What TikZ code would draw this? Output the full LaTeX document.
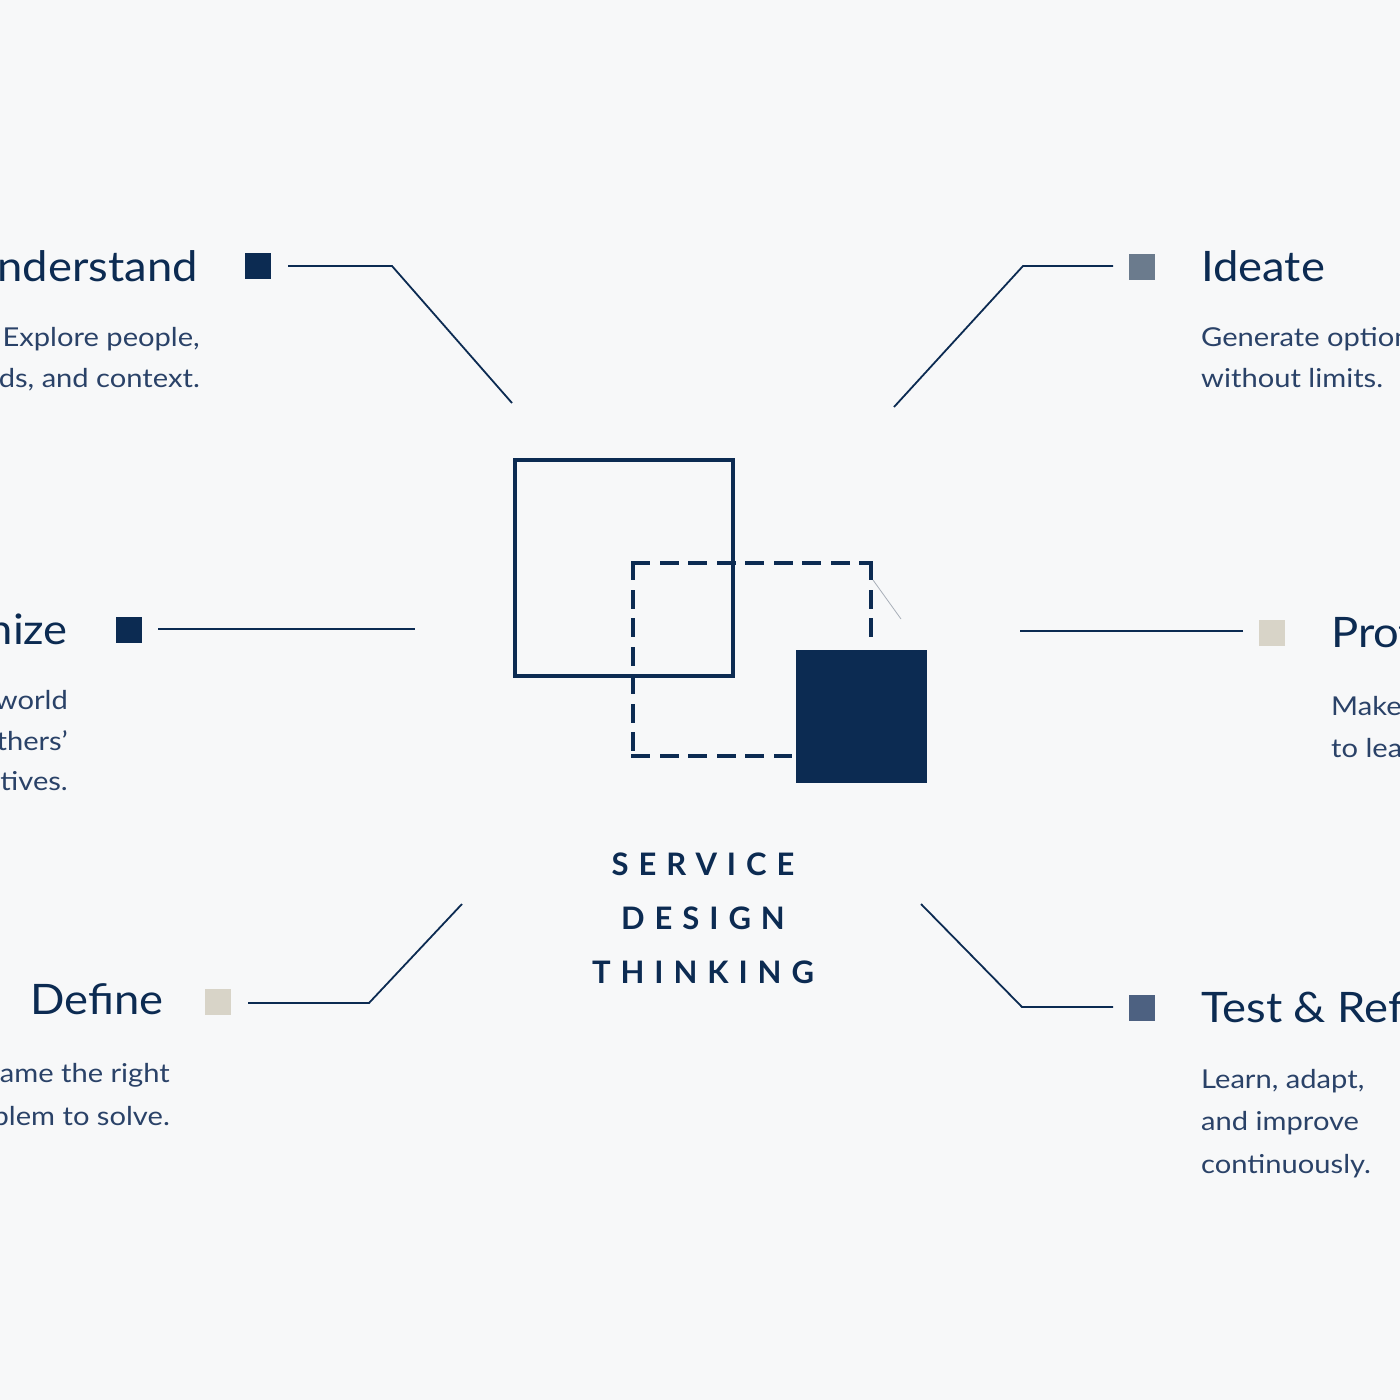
\documentclass[tikz,border=0pt]{standalone}
\usepackage{fontspec}
\setmainfont{Lato}
\newfontfamily\titlefont[FakeStretch=1.08]{Lato}
\newfontfamily\descfont[FakeStretch=1.12]{Lato}
\definecolor{bg}{HTML}{F7F8F9}
\definecolor{navy}{HTML}{0C2B52}
\definecolor{descc}{HTML}{2A4268}
\definecolor{slate}{HTML}{6B7B8D}
\definecolor{slated}{HTML}{4D6181}
\definecolor{beige}{HTML}{D8D4C8}
\definecolor{faint}{HTML}{A8AFB8}
\tikzset{
  title/.style={font=\titlefont\fontsize{42}{48}\selectfont, text=navy, inner sep=0pt},
  desc/.style={font=\descfont\fontsize{26}{32}\selectfont, text=descc, inner sep=0pt},
  marker/.style={minimum size=26pt, inner sep=0pt, draw=none},
  conn/.style={draw=navy, line width=1.8pt},
  center/.style={font=\fontsize{31}{36}\selectfont\bfseries\addfontfeature{LetterSpace=32}, text=navy, inner sep=0pt},
  solidsq/.style={draw=navy, line width=4.8pt},
  dashsq/.style={draw=navy, line width=4pt, dash pattern=on 15pt off 13.5pt, line cap=rect}
}
\begin{document}
\begin{tikzpicture}[x=1pt,y=-1pt]
\useasboundingbox (0,0) rectangle (1400,1400);
\clip (0,0) rectangle (1400,1400);
\fill[bg] (0,0) rectangle (1400,1400);

% central graphic
\draw[solidsq] (515,460) rectangle (733,676);
\draw[dashsq] (633,563) -- (871,563);
\draw[dashsq] (871,563) -- (871,638);
\draw[dashsq] (633,563) -- (633,756);
\draw[dashsq] (633,756) -- (790,756);
\node[fill=navy, draw=none, inner sep=0pt, minimum width=131pt, minimum height=133pt, anchor=north west] (fsq) at (796,650) {};
\draw[faint, line width=0.8pt] (873,580) -- (901,619);

\node[center, anchor=base] (c1) at (703,875) {SERVICE};
\node[center, anchor=base] (c2) at (703,929) {DESIGN};
\node[center, anchor=base] (c3) at (703,983) {THINKING};

% Understand
\node[title, anchor=base east] (ut) at (198,281) {Understand};
\node[desc, anchor=base east] (ud1) at (200,346) {Explore people,};
\node[desc, anchor=base east] (ud2) at (200,387) {needs, and context.};
\node[marker, fill=navy] (us) at (257.5,266) {};
\coordinate (ua) at (288,266);
\coordinate (ub) at (392,266);
\coordinate (uc) at (512,403);
\draw[conn] (ua) -- (ub) -- (uc);

% Ideate
\node[title, anchor=base west] (it) at (1201,281) {Ideate};
\node[desc, anchor=base west] (id1) at (1201,346) {Generate options};
\node[desc, anchor=base west] (id2) at (1201,387) {without limits.};
\node[marker, fill=slate] (is) at (1142,266.5) {};
\coordinate (ia) at (1113,266);
\coordinate (ib) at (1023,266);
\coordinate (ic) at (894,407);
\draw[conn] (ia) -- (ib) -- (ic);

% Empathize
\node[title, anchor=base east] (et) at (68,644) {Empathize};
\node[desc, anchor=base east] (ed1) at (68,709) {See the world};
\node[desc, anchor=base east] (ed2) at (68,750) {through others’};
\node[desc, anchor=base east] (ed3) at (68,790) {perspectives.};
\node[marker, fill=navy] (es) at (128.5,630) {};
\coordinate (ea) at (158,629);
\coordinate (eb) at (415,629);
\draw[conn] (ea) -- (eb);

% Prototype
\node[title, anchor=base west] (pt) at (1331,647) {Prototype};
\node[desc, anchor=base west] (pd1) at (1331,715) {Make it real};
\node[desc, anchor=base west] (pd2) at (1331,757) {to learn fast.};
\node[marker, fill=beige] (ps) at (1272,632.5) {};
\coordinate (pa) at (1243,631);
\coordinate (pb) at (1020,631);
\draw[conn] (pa) -- (pb);

% Define
\node[title, anchor=base east] (dt) at (164,1014) {Define};
\node[desc, anchor=base east] (dd1) at (170,1082) {Frame the right};
\node[desc, anchor=base east] (dd2) at (170,1125) {problem to solve.};
\node[marker, fill=beige] (ds) at (218,1002) {};
\coordinate (da) at (248,1003);
\coordinate (db) at (369,1003);
\coordinate (dc) at (462,904);
\draw[conn] (da) -- (db) -- (dc);

% Test & Refine
\node[title, anchor=base west] (tt) at (1201,1022) {Test \& Refine};
\node[desc, anchor=base west] (td1) at (1201,1088) {Learn, adapt,};
\node[desc, anchor=base west] (td2) at (1201,1130) {and improve};
\node[desc, anchor=base west] (td3) at (1201,1173) {continuously.};
\node[marker, fill=slated] (ts) at (1142,1007.5) {};
\coordinate (ta) at (1113,1007);
\coordinate (tb) at (1022,1007);
\coordinate (tc) at (921,904);
\draw[conn] (ta) -- (tb) -- (tc);
\end{tikzpicture}
\end{document}
